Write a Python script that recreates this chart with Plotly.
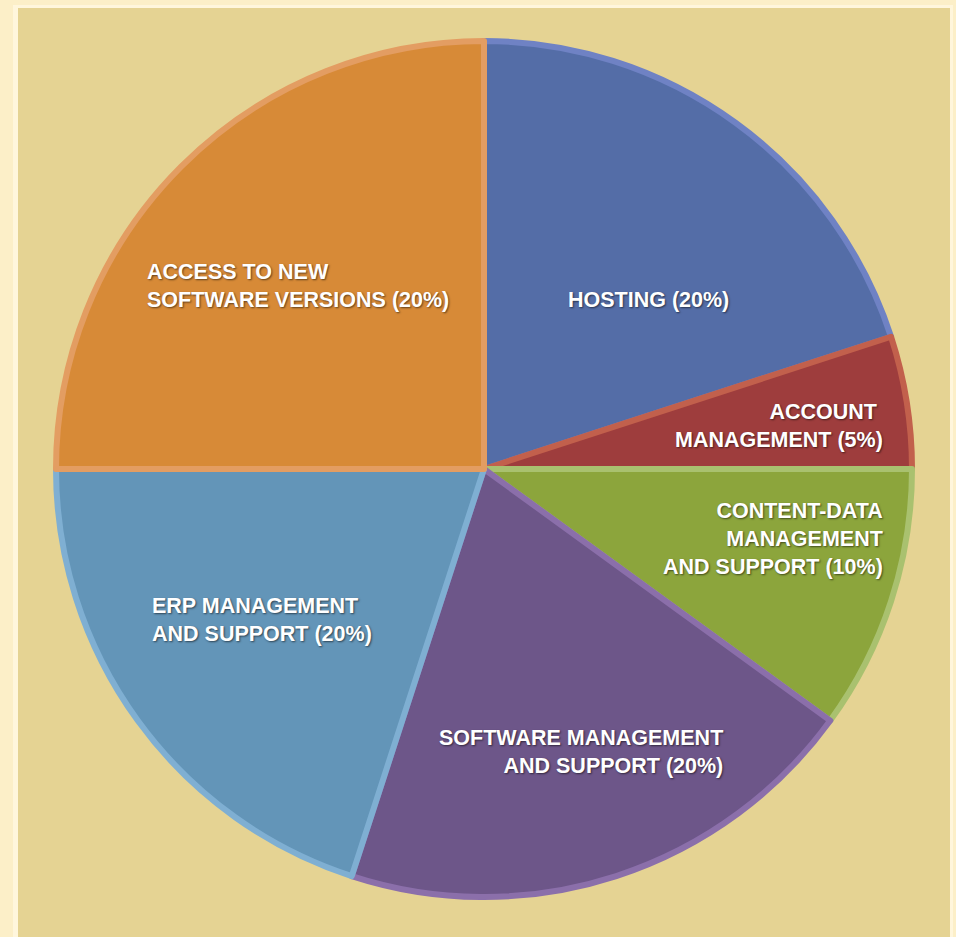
import plotly.graph_objects as go

W, H = 956, 937

labels = ["HOSTING", "ACCOUNT MANAGEMENT", "CONTENT-DATA MANAGEMENT AND SUPPORT",
          "SOFTWARE MANAGEMENT AND SUPPORT", "ERP MANAGEMENT AND SUPPORT",
          "ACCESS TO NEW SOFTWARE VERSIONS"]
values = [20, 5, 10, 20, 20, 25]
label_text = ["HOSTING (20%)",
              "ACCOUNT <br>MANAGEMENT (5%)",
              "CONTENT-DATA<br>MANAGEMENT<br>AND SUPPORT (10%)",
              "SOFTWARE MANAGEMENT<br>AND SUPPORT (20%)",
              "ERP MANAGEMENT<br>AND SUPPORT (20%)",
              "ACCESS TO NEW<br>SOFTWARE VERSIONS (20%)"]
fill_colors = ["#546DA7", "#9E3D3D", "#8CA53C", "#6D5689", "#6395B8", "#D78A37"]
edge_colors = ["#6F82C4", "#C2604C", "#A9C16F", "#8B6FAA", "#7FAFD2", "#E39D62"]

# label placement (pixels) and alignment
label_pos = [(648, 300, "center"), (885, 426, "right"), (885, 539, "right"),
             (725, 752, "right"), (150, 620, "left"), (145, 286, "left")]

cx, cy, r = 484, 469, 428

fig = go.Figure()
fig.add_trace(go.Pie(
    labels=labels, values=values, sort=False, direction="clockwise", rotation=0,
    marker=dict(colors=fill_colors, line=dict(color=edge_colors, width=6)),
    textinfo="none", hoverinfo="label+percent", showlegend=False,
    domain=dict(x=[(cx - r) / W, (cx + r) / W], y=[1 - (cy + r) / H, 1 - (cy - r) / H]),
))

shapes = [dict(type="rect", xref="paper", yref="paper",
               x0=13 / W, x1=953 / W, y0=0, y1=1 - 5 / H,
               fillcolor="#FFF6DC", line=dict(width=0), layer="below"),
          dict(type="rect", xref="paper", yref="paper",
               x0=18 / W, x1=950 / W, y0=0, y1=1 - 8 / H,
               fillcolor="#E5D393", line=dict(width=0), layer="below")]

annotations = []
for t, (x, y, al) in zip(label_text, label_pos):
    annotations.append(dict(
        text=t, x=x / W, y=1 - y / H, xref="paper", yref="paper",
        xanchor=al, yanchor="middle", align=al, showarrow=False,
        font=dict(family="Liberation Sans, Arial, sans-serif", size=21.5, color="white",
                  shadow="1px 1px 2px rgba(0,0,0,0.55)", weight="bold")))

fig.update_layout(
    width=W, height=H, margin=dict(l=0, r=0, t=0, b=0),
    paper_bgcolor="#FCEFC8", plot_bgcolor="#FCEFC8",
    shapes=shapes, annotations=annotations,
)

fig.write_html("out.html", config={"displayModeBar": False},
               post_script="document.body.style.margin='0';document.body.style.overflow='hidden';")
